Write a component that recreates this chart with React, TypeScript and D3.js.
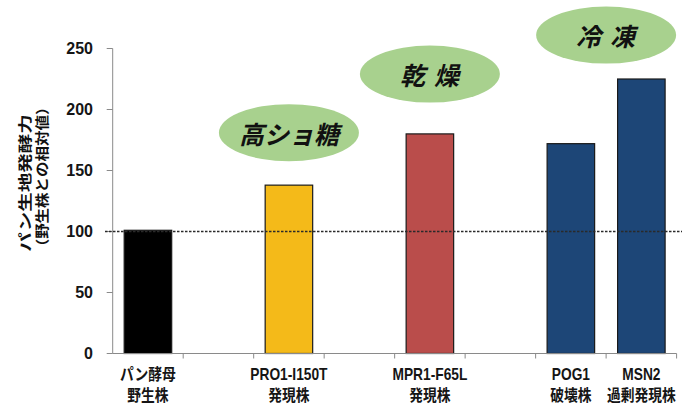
import React from "react";
import * as d3 from "d3";

// Bread dough fermentation ability of yeast strains, relative to wild type (=100)
const slotKeys = ["s0", "s1", "s2", "s3", "s4", "s5", "s6", "s7"];
const strainLine1 = ["パン酵母", "PRO1-I150T", "MPR1-F65L", "POG1", "MSN2"];
const strainLine2 = ["野生株", "発現株", "発現株", "破壊株", "過剰発現株"];
const strainSlots = [0, 2, 4, 6, 7];
const fermentValues = [101, 138, 180, 172, 225];
const barColors = ["#000000", "#f4ba19", "#ba4d4b", "#1d4677", "#1d4677"];
const yTicks = [0, 50, 100, 150, 200, 250];
const referenceValue = 100;

// Stress-tolerance callouts: label, slot position, height in axis units
const stressLabels = ["高ショ糖", "乾燥", "冷凍"];
const stressSlots = [2, 4, 6.5];
const stressLevels = [181, 229, 261];

const W = 690;
const H = 407;
const left = 112.7;
const right = 676.6;
const top = 48.5;
const bottom = 353.5;

export default function App() {
  const x = d3
    .scaleBand<string>()
    .domain(slotKeys)
    .range([left, right])
    .paddingInner(0.326)
    .paddingOuter(0.163);
  const y = d3.scaleLinear().domain([0, 250]).range([bottom, top]);
  const step = x.step();
  const slotCenter = (s: number) => left + step * (s + 0.5);

  const jp = "'Noto Sans CJK JP', 'Liberation Sans', sans-serif";
  const latin = "'Liberation Sans', Arial, sans-serif";

  return (
    <svg
      width={W}
      height={H}
      style={{ position: "absolute", left: 0, top: 0, background: "#fff" }}
    >
      {/* y axis */}
      <line x1={left} x2={left} y1={y(250)} y2={bottom} stroke="#8a8a8a" strokeWidth={1} />
      {yTicks.map((t) => (
        <g key={t}>
          <line x1={left - 6} x2={left} y1={y(t)} y2={y(t)} stroke="#8a8a8a" strokeWidth={1} />
          <text
            x={93}
            y={y(t)}
            textAnchor="end"
            dominantBaseline="central"
            fontFamily={latin}
            fontWeight={700}
            fontSize={16}
            fill="#151515"
          >
            {t}
          </text>
        </g>
      ))}

      {/* y axis title, two rotated lines */}
      <g transform={`translate(24,183) scale(0.72,1) rotate(-90)`}>
        <text
          textAnchor="middle"
          dominantBaseline="central"
          fontFamily={jp}
          fontWeight={700}
          fontSize={19.5}
          fill="#111"
        >
          パン生地発酵力
        </text>
      </g>
      <g transform={`translate(41,177) scale(0.9,1) rotate(-90)`}>
        <text
          textAnchor="middle"
          dominantBaseline="central"
          fontFamily={jp}
          fontWeight={700}
          fontSize={15.5}
          fill="#111"
        >
          （野生株との相対値）
        </text>
      </g>

      {/* bars */}
      {fermentValues.map((v, i) => (
        <rect
          key={i}
          x={x(slotKeys[strainSlots[i]])}
          y={y(v)}
          width={x.bandwidth()}
          height={bottom - y(v)}
          fill={barColors[i]}
          stroke="#1a1a1a"
          strokeWidth={1.2}
        />
      ))}

      {/* x axis */}
      <line x1={left} x2={right} y1={bottom} y2={bottom} stroke="#8a8a8a" strokeWidth={1} />
      {slotKeys.map((k, i) => (
        <line
          key={k}
          x1={left + step * (i + 1)}
          x2={left + step * (i + 1)}
          y1={bottom}
          y2={bottom + 5}
          stroke="#8a8a8a"
          strokeWidth={1}
        />
      ))}

      {/* wild-type reference line */}
      <line
        x1={105}
        x2={682}
        y1={y(referenceValue)}
        y2={y(referenceValue)}
        stroke="#2a2a2a"
        strokeWidth={1.3}
        strokeDasharray="2.5,1.5"
      />

      {/* strain labels */}
      {strainLine1.map((l1, i) => {
        const cx = slotCenter(strainSlots[i]);
        return (
          <g key={i} transform={`translate(${cx},0) scale(0.86,1)`}>
            <text
              x={0}
              y={380}
              textAnchor="middle"
              fontFamily={i === 0 ? jp : latin}
              fontWeight={700}
              fontSize={16}
              fill="#151515"
            >
              {l1}
            </text>
            <text
              x={0}
              y={401}
              textAnchor="middle"
              fontFamily={jp}
              fontWeight={700}
              fontSize={16}
              fill="#151515"
            >
              {strainLine2[i]}
            </text>
          </g>
        );
      })}

      {/* stress callouts */}
      {stressLabels.map((s, i) => {
        const cx = slotCenter(stressSlots[i]);
        const cy = y(stressLevels[i]);
        return (
          <g key={s}>
            <ellipse cx={cx} cy={cy} rx={70} ry={28.5} fill="#a8d18e" />
            <text
              x={cx + (s.length === 2 ? 4 : 0)}
              y={cy}
              textAnchor="middle"
              dominantBaseline="central"
              fontFamily={jp}
              fontWeight={700}
              fontStyle="italic"
              fontSize={25}
              letterSpacing={s.length === 2 ? 9 : 0}
              fill="#111"
            >
              {s}
            </text>
          </g>
        );
      })}
    </svg>
  );
}
